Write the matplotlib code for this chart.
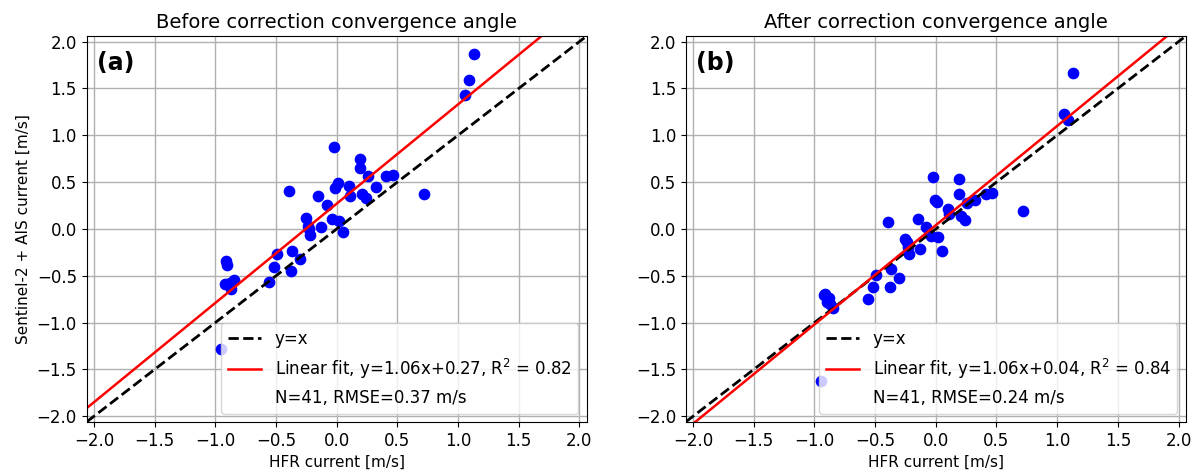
import numpy as np
import matplotlib
matplotlib.use("Agg")
import matplotlib.pyplot as plt

# HFR current (x) and Sentinel-2 + AIS current before / after correction
hfr = [1.13, 1.09, 1.06, -0.02, 0.19, 0.19, 0.26, 0.41, 0.46, 0.32,
       0.01, -0.01, 0.10, 0.11, 0.21, 0.24, 0.72, -0.39, -0.15, -0.08,
       -0.25, -0.04, 0.02, 0.05, -0.13, -0.23, -0.22, -0.37, -0.30, -0.49,
       -0.52, -0.38, -0.56, -0.91, -0.90, -0.92, -0.85, -0.87, -0.88, -0.95,
       -0.24]
s2_before = [1.87, 1.59, 1.43, 0.87, 0.75, 0.65, 0.57, 0.57, 0.58, 0.45,
             0.49, 0.44, 0.46, 0.35, 0.37, 0.33, 0.37, 0.41, 0.35, 0.26,
             0.12, 0.11, 0.08, -0.03, 0.02, 0.00, -0.07, -0.24, -0.32, -0.27,
             -0.41, -0.45, -0.57, -0.34, -0.39, -0.59, -0.54, -0.64, -0.58, -1.28,
             0.03]
s2_after = [1.67, 1.16, 1.23, 0.55, 0.53, 0.37, 0.28, 0.37, 0.38, 0.31,
            0.29, 0.31, 0.21, 0.16, 0.14, 0.10, 0.19, 0.07, 0.11, 0.02,
            -0.11, -0.08, -0.09, -0.24, -0.21, -0.19, -0.27, -0.43, -0.52, -0.49,
            -0.62, -0.62, -0.75, -0.69, -0.78, -0.71, -0.84, -0.80, -0.74, -1.62,
            -0.14]

titles = ["Before correction convergence angle", "After correction convergence angle"]
panel_labels = ["(a)", "(b)"]
slopes = [1.06, 1.06]
intercepts = [0.27, 0.04]
r2 = [0.82, 0.84]
rmse = [0.37, 0.24]
n_points = 41

plt.rcParams["font.size"] = 12

fig = plt.figure(figsize=(11.99, 4.74), dpi=100)
ax1 = fig.add_axes([0.0723, 0.110, 0.417, 0.814])
ax2 = fig.add_axes([0.572, 0.110, 0.417, 0.814])

lim = 2.06
xx = np.array([-lim, lim])
ticks = np.arange(-2.0, 2.01, 0.5)

for i, (ax, ys) in enumerate(zip([ax1, ax2], [s2_before, s2_after])):
    ax.scatter(hfr, ys, s=55, color="blue", zorder=2)
    ax.plot(xx, xx, "k--", lw=2, label="y=x")
    ax.plot(xx, slopes[i] * xx + intercepts[i], "r-", lw=1.8,
            label="Linear fit, y=%.2fx+%.2f, R$^2$ = %.2f" % (slopes[i], intercepts[i], r2[i]))
    ax.plot([], [], " ", label="N=%d, RMSE=%.2f m/s" % (n_points, rmse[i]))
    ax.set_xlim(-lim, lim)
    ax.set_ylim(-lim, lim)
    ax.set_xticks(ticks)
    ax.set_yticks(ticks)
    ax.grid(True, color="#b0b0b0", lw=1)
    ax.set_title(titles[i], fontsize=14)
    ax.set_xlabel("HFR current [m/s]", fontsize=11)
    ax.text(0.02, 0.93, panel_labels[i], transform=ax.transAxes,
            fontsize=17, fontweight="bold", va="center")
    ax.legend(loc="lower right", fontsize=12)

ax1.set_ylabel("Sentinel-2 + AIS current [m/s]", fontsize=11)

plt.savefig("out.png", dpi=100)
